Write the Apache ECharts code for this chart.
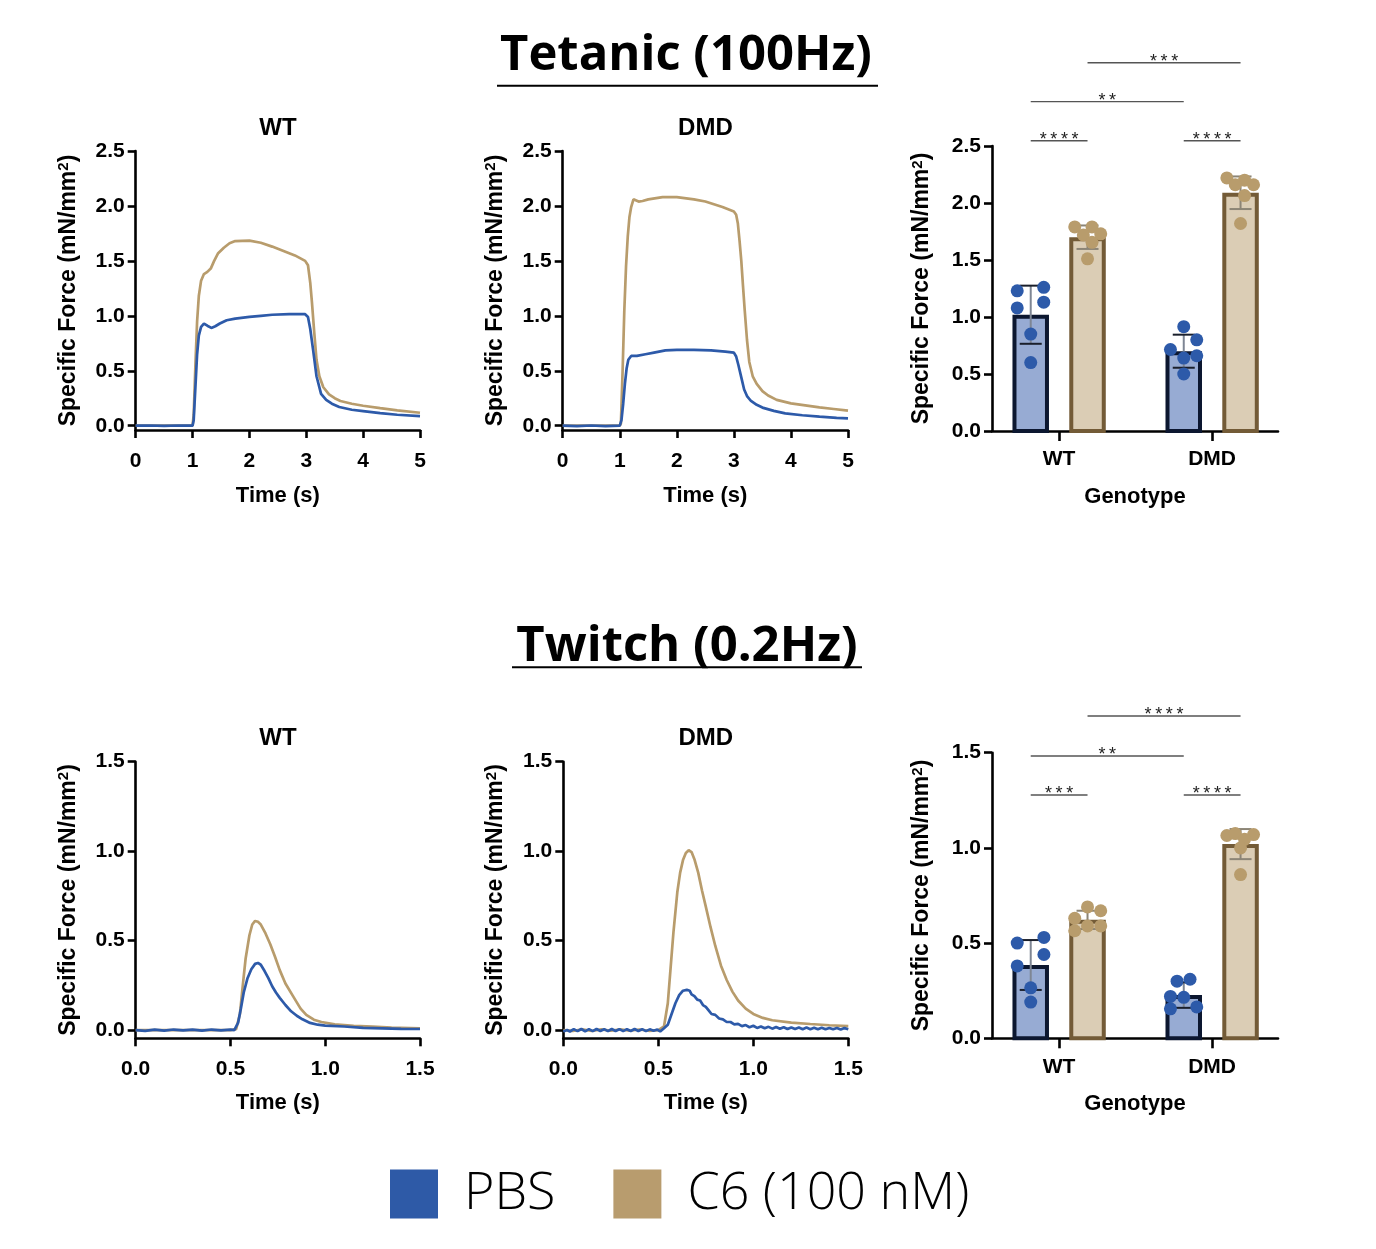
<!DOCTYPE html>
<html>
<head>
<meta charset="utf-8">
<script src="https://cdn.jsdelivr.net/npm/echarts@6/dist/echarts.min.js"></script>
<style>
html,body{margin:0;padding:0;background:#ffffff;}
#chart{width:1376px;height:1249px;}
</style>
</head>
<body>
<div id="chart"></div>
<script>
// ---------------- DATA ----------------
const genotypes = ['WT', 'DMD'];
const treatments = ['PBS', 'C6 (100 nM)'];
const tetForceTicks = [0, 0.5, 1.0, 1.5, 2.0, 2.5];
const twForceTicks = [0, 0.5, 1.0, 1.5];
const genotypeTicks = [0, 1];

// Tetanic traces: [time (s), specific force]
const tetWT_PBS = [[0,0],[0.25,0.002],[0.5,-0.002],[0.75,0.002],[1.0,0],[1.02,0.05],[1.05,0.35],[1.08,0.65],[1.11,0.82],[1.15,0.9],[1.2,0.93],[1.26,0.91],[1.33,0.89],[1.4,0.905],[1.48,0.93],[1.6,0.96],[1.75,0.975],[2.0,0.99],[2.2,1.0],[2.4,1.01],[2.7,1.015],[2.98,1.015],[3.03,0.99],[3.07,0.88],[3.12,0.69],[3.18,0.45],[3.26,0.29],[3.35,0.235],[3.45,0.2],[3.58,0.17],[3.8,0.145],[4.0,0.133],[4.3,0.115],[4.6,0.1],[5.0,0.088]];
const tetWT_C6 = [[0,0],[0.5,0],[1.0,0],[1.02,0.1],[1.05,0.55],[1.08,0.95],[1.11,1.18],[1.15,1.32],[1.2,1.38],[1.26,1.4],[1.32,1.43],[1.38,1.5],[1.45,1.57],[1.55,1.62],[1.65,1.66],[1.75,1.68],[2.0,1.685],[2.2,1.665],[2.4,1.63],[2.6,1.59],[2.8,1.55],[2.98,1.5],[3.03,1.46],[3.07,1.3],[3.1,1.12],[3.14,0.85],[3.18,0.6],[3.23,0.45],[3.3,0.35],[3.4,0.285],[3.5,0.25],[3.6,0.225],[3.8,0.2],[4.0,0.182],[4.3,0.16],[4.6,0.14],[5.0,0.118]];
const tetDMD_PBS = [[0,0],[0.25,-0.004],[0.5,0.002],[0.75,-0.003],[1.0,0],[1.03,0.05],[1.06,0.2],[1.09,0.38],[1.12,0.52],[1.15,0.6],[1.2,0.635],[1.3,0.635],[1.45,0.65],[1.6,0.665],[1.8,0.685],[2.0,0.69],[2.3,0.69],[2.6,0.685],[2.85,0.675],[3.0,0.665],[3.04,0.63],[3.08,0.55],[3.13,0.44],[3.18,0.33],[3.23,0.27],[3.3,0.225],[3.4,0.19],[3.5,0.165],[3.7,0.135],[3.9,0.112],[4.2,0.095],[4.5,0.082],[4.8,0.072],[5.0,0.067]];
const tetDMD_C6 = [[0,0],[0.5,0],[1.0,0],[1.02,0.02],[1.05,0.5],[1.08,1.05],[1.11,1.45],[1.14,1.72],[1.17,1.9],[1.2,1.99],[1.24,2.06],[1.27,2.07],[1.33,2.04],[1.4,2.045],[1.5,2.06],[1.75,2.08],[2.0,2.08],[2.3,2.06],[2.5,2.04],[2.8,1.99],[3.0,1.95],[3.04,1.92],[3.07,1.84],[3.1,1.68],[3.13,1.5],[3.16,1.27],[3.19,1.05],[3.23,0.78],[3.27,0.58],[3.33,0.45],[3.4,0.38],[3.5,0.315],[3.6,0.275],[3.75,0.235],[4.0,0.203],[4.25,0.185],[4.5,0.167],[4.75,0.152],[5.0,0.137]];

// Twitch traces: [time (s), specific force]
const twWT_PBS = [[0,0],[0.05,-0.004],[0.1,0.002],[0.15,-0.003],[0.2,0.003],[0.25,-0.002],[0.3,0.002],[0.35,-0.003],[0.4,0.003],[0.45,-0.002],[0.5,0.002],[0.52,0],[0.54,0.04],[0.555,0.12],[0.57,0.21],[0.59,0.29],[0.61,0.34],[0.63,0.37],[0.645,0.375],[0.66,0.365],[0.68,0.33],[0.7,0.29],[0.72,0.245],[0.74,0.21],[0.76,0.18],[0.79,0.14],[0.82,0.105],[0.85,0.08],[0.88,0.06],[0.92,0.04],[0.96,0.03],[1.0,0.025],[1.1,0.02],[1.2,0.012],[1.3,0.01],[1.4,0.007],[1.5,0.006]];
const twWT_C6 = [[0,0],[0.25,0],[0.5,0],[0.53,0.005],[0.55,0.09],[0.565,0.25],[0.58,0.4],[0.6,0.53],[0.615,0.59],[0.63,0.61],[0.645,0.605],[0.66,0.59],[0.685,0.54],[0.71,0.48],[0.735,0.41],[0.76,0.335],[0.79,0.26],[0.83,0.19],[0.87,0.12],[0.9,0.085],[0.94,0.058],[0.98,0.045],[1.05,0.032],[1.15,0.024],[1.25,0.019],[1.35,0.014],[1.5,0.01]];
const twDMD_PBS = [[0,-0.008],[0.02,0.0],[0.035,-0.008],[0.055,0.005],[0.075,-0.006],[0.095,0.006],[0.115,-0.007],[0.135,0.005],[0.155,-0.006],[0.175,0.006],[0.195,-0.005],[0.215,0.005],[0.235,-0.006],[0.255,0.006],[0.275,-0.005],[0.295,0.005],[0.315,-0.006],[0.335,0.005],[0.355,-0.005],[0.375,0.006],[0.395,-0.005],[0.415,0.005],[0.435,-0.006],[0.455,0.004],[0.475,-0.004],[0.495,0.003],[0.51,-0.008],[0.53,0.01],[0.55,0.03],[0.57,0.09],[0.59,0.15],[0.61,0.195],[0.63,0.22],[0.65,0.225],[0.665,0.22],[0.675,0.2],[0.69,0.19],[0.705,0.17],[0.72,0.165],[0.735,0.14],[0.75,0.13],[0.765,0.11],[0.78,0.09],[0.8,0.085],[0.82,0.065],[0.84,0.06],[0.86,0.045],[0.88,0.045],[0.9,0.032],[0.92,0.035],[0.94,0.022],[0.96,0.028],[0.98,0.016],[1.0,0.024],[1.02,0.012],[1.04,0.02],[1.06,0.01],[1.08,0.018],[1.1,0.008],[1.12,0.017],[1.14,0.007],[1.16,0.016],[1.18,0.006],[1.2,0.015],[1.22,0.006],[1.24,0.014],[1.26,0.005],[1.28,0.014],[1.3,0.005],[1.32,0.013],[1.34,0.004],[1.36,0.013],[1.38,0.004],[1.4,0.012],[1.42,0.004],[1.44,0.012],[1.46,0.003],[1.48,0.011],[1.5,0.005]];
const twDMD_C6 = [[0,0],[0.05,-0.005],[0.1,0.004],[0.15,-0.005],[0.2,0.004],[0.25,-0.004],[0.3,0.004],[0.35,-0.004],[0.4,0.003],[0.45,-0.004],[0.5,0],[0.53,0.02],[0.55,0.15],[0.565,0.35],[0.58,0.55],[0.6,0.77],[0.615,0.88],[0.63,0.95],[0.645,0.99],[0.66,1.005],[0.675,0.995],[0.69,0.955],[0.71,0.88],[0.73,0.78],[0.75,0.69],[0.775,0.575],[0.8,0.47],[0.83,0.36],[0.86,0.28],[0.89,0.215],[0.92,0.165],[0.96,0.12],[1.0,0.09],[1.05,0.068],[1.1,0.055],[1.2,0.042],[1.3,0.034],[1.4,0.027],[1.5,0.022]];

// Bar summaries (mean, SD) per genotype [WT, DMD]
const tetMeanPBS = [1.02, 0.70];
const tetSdPBS = [0.255, 0.145];
const tetMeanC6 = [1.70, 2.09];
const tetSdC6 = [0.103, 0.143];
const twMeanPBS = [0.385, 0.227];
const twSdPBS = [0.131, 0.067];
const twMeanC6 = [0.622, 1.02];
const twSdC6 = [0.048, 0.079];

// Individual points
const tetPtsPBS_WT = [1.23, 1.26, 1.08, 1.13, 0.85, 0.60];
const tetPtsC6_WT = [1.79, 1.79, 1.73, 1.72, 1.655, 1.51];
const tetPtsPBS_DMD = [0.915, 0.80, 0.715, 0.66, 0.64, 0.50];
const tetPtsC6_DMD = [2.22, 2.20, 2.16, 2.16, 2.065, 1.82];
const twPtsPBS_WT = [0.50, 0.53, 0.44, 0.38, 0.265, 0.19];
const twPtsC6_WT = [0.69, 0.67, 0.63, 0.59, 0.59, 0.565];
const twPtsPBS_DMD = [0.30, 0.31, 0.22, 0.215, 0.155, 0.165];
const twPtsC6_DMD = [1.065, 1.075, 1.07, 1.045, 1.00, 0.86];

// Significance: [genotype1, treatment1, genotype2, treatment2, height]
const tetSig = [[0,0,0,1,2.546],[1,0,1,1,2.546],[0,0,1,0,2.889],[0,1,1,1,3.23]];
const tetSigLabels = ['****','****','**','***'];
const twSig = [[0,0,0,1,1.278],[1,0,1,1,1.278],[0,0,1,0,1.483],[0,1,1,1,1.693]];
const twSigLabels = ['***','****','**','****'];

// ---------------- LAYOUT / STYLE ----------------
const FONT = "'Liberation Sans', Arial, Helvetica, sans-serif";
const BLUE = '#2D5AA9';
const TAN = '#B89C6C';
const treatOffset = [-28.3, 28.5];   // px from genotype tick to bar centre
// horizontal jitter of individual dots (px), same order as point arrays
const jitTetPBS_WT = [-13.5, 13, -13.5, 13, 0, 0];
const jitTetC6_WT = [-12.8, 4.5, 13.2, -4.2, 4.5, 0];
const jitTetPBS_DMD = [0, 13, -13.3, 13, 0, 0];
const jitTetC6_DMD = [-13.7, 4, -5.3, 13, 4, 0];
const jitTwPBS_WT = [-13.5, 13.2, 13.2, -13.5, 0, 0];
const jitTwC6_WT = [0, 13.2, -12.8, 0, 13.2, -12.8];
const jitTwPBS_DMD = [-6.7, 6.3, -13.3, 0, -13.3, 13];
const jitTwC6_DMD = [-13.7, -5.3, 13, 4, 0, 0];

const grids = [
  {left: 135.7, top: 151, width: 284.3, height: 279},
  {left: 562.7, top: 151, width: 285.3, height: 279},
  {left: 992, top: 146, width: 286, height: 285},
  {left: 135.7, top: 761.7, width: 284.3, height: 276.6},
  {left: 563.3, top: 761.7, width: 285, height: 276.6},
  {left: 992, top: 752.7, width: 286, height: 285.6}
].map(g => Object.assign({outerBoundsMode: 'none', containLabel: false}, g));

const axisLineStyle = {show: true, onZero: false, lineStyle: {color: '#000', width: 2.6}};
const tickStyle = (len) => ({show: true, length: len, lineStyle: {color: '#000', width: 2.6}});
const labelBase = {color: '#000', fontSize: 21, fontWeight: 'bold', fontFamily: FONT};
const yName = 'Specific Force (mN/mm{sup|2})';
const yNameStyle = {color: '#000', fontSize: 23, fontWeight: 'bold', fontFamily: FONT,
  rich: {sup: {fontSize: 15, fontWeight: 'bold', fontFamily: FONT, color: '#000', verticalAlign: 'top', lineHeight: 23}}};
const xNameStyle = {color: '#000', fontSize: 22, fontWeight: 'bold', fontFamily: FONT};

function lineXAxis(gi, max, interval, digits, margin, gap) {
  return {type: 'value', gridIndex: gi, min: 0, max: max, interval: interval,
    axisLine: axisLineStyle, axisTick: tickStyle(8), splitLine: {show: false},
    axisLabel: Object.assign({margin: margin, formatter: v => v.toFixed(digits)}, labelBase),
    name: 'Time (s)', nameLocation: 'middle', nameGap: gap, nameTextStyle: xNameStyle, nameMoveOverlap: false};
}
function lineYAxis(gi, min, max, ticks) {
  return {type: 'value', gridIndex: gi, min: min, max: max,
    axisLine: axisLineStyle, axisTick: Object.assign({customValues: ticks}, tickStyle(8)), splitLine: {show: false},
    axisLabel: Object.assign({margin: 11, customValues: ticks, formatter: v => v.toFixed(1)}, labelBase),
    name: yName, nameLocation: 'middle', nameRotate: 90, nameGap: 56, nameTextStyle: yNameStyle, nameMoveOverlap: false};
}
function barXAxis(gi, margin) {
  return {type: 'value', gridIndex: gi, min: -0.438, max: 1.431,
    axisLine: axisLineStyle, axisTick: Object.assign({customValues: genotypeTicks}, tickStyle(10)), splitLine: {show: false},
    axisLabel: Object.assign({margin: margin, customValues: genotypeTicks, formatter: v => genotypes[Math.round(v)]}, labelBase),
    name: 'Genotype', nameLocation: 'middle', nameGap: 55, nameTextStyle: xNameStyle, nameMoveOverlap: false};
}
function barYAxis(gi, max) {
  return {type: 'value', gridIndex: gi, min: 0, max: max, interval: 0.5,
    axisLine: axisLineStyle, axisTick: tickStyle(8), splitLine: {show: false},
    axisLabel: Object.assign({margin: 11, formatter: v => v.toFixed(1)}, labelBase),
    name: yName, nameLocation: 'middle', nameRotate: 90, nameGap: 59, nameTextStyle: yNameStyle, nameMoveOverlap: false};
}

function lineSeries(name, gi, data, color) {
  return {type: 'line', name: name, xAxisIndex: gi, yAxisIndex: gi, data: data,
    showSymbol: false, symbol: 'none', smooth: false,
    lineStyle: {color: color, width: 2.7}, itemStyle: {color: color}, emphasis: {disabled: true}, silent: true};
}

const barStyles = [
  {fill: '#97ABD3', stroke: '#0C1730', stem: '#7E8694', cap: '#1A1F2B'},
  {fill: '#DBCDB5', stroke: '#735B37', stem: '#8C8576', cap: '#8C8576'}
];
function barSeries(name, gi, ti, means, sds) {
  const st = barStyles[ti];
  return {type: 'custom', name: name, xAxisIndex: gi, yAxisIndex: gi, clip: false, silent: true,
    data: genotypes.map((g, i) => [i, means[i], sds[i]]),
    itemStyle: {color: st.fill},
    renderItem: function (params, api) {
      const g = api.value(0), m = api.value(1), sd = api.value(2);
      const base = api.coord([g, 0]);
      const top = api.coord([g, m]);
      const cx = base[0] + treatOffset[ti];
      const bw = 36.5, lw = 4;
      const eTop = api.coord([g, m + sd])[1];
      const eBot = api.coord([g, m - sd])[1];
      return {type: 'group', children: [
        {type: 'rect', shape: {x: cx - bw / 2 + lw / 2, y: top[1] + lw / 2, width: bw - lw, height: base[1] - top[1] - lw / 2},
          style: {fill: st.fill, stroke: st.stroke, lineWidth: lw}},
        {type: 'line', shape: {x1: cx, y1: eTop, x2: cx, y2: eBot}, style: {stroke: st.stem, lineWidth: 2}},
        {type: 'line', shape: {x1: cx - 11, y1: eTop, x2: cx + 11, y2: eTop}, style: {stroke: st.cap, lineWidth: 2}},
        {type: 'line', shape: {x1: cx - 11, y1: eBot, x2: cx + 11, y2: eBot}, style: {stroke: st.cap, lineWidth: 2}}
      ]};
    }};
}
function dotSeries(name, gi, ti, genoIdx, values, jitter, color) {
  return {type: 'scatter', name: name, xAxisIndex: gi, yAxisIndex: gi, symbol: 'circle', symbolSize: 13,
    itemStyle: {color: color, opacity: 1}, silent: true, clip: false, z: 5,
    data: values.map((v, k) => ({value: [genoIdx, v], symbolOffset: [treatOffset[ti] + jitter[k], 0]}))};
}
function sigSeries(gi, sig, labels) {
  return {type: 'custom', name: 'sig', xAxisIndex: gi, yAxisIndex: gi, clip: false, silent: true, z: 6,
    data: sig,
    renderItem: function (params, api) {
      const yv = api.value(4);
      const y = api.coord([0, yv])[1];
      const x1 = api.coord([api.value(0), yv])[0] + treatOffset[api.value(1)];
      const x2 = api.coord([api.value(2), yv])[0] + treatOffset[api.value(3)];
      return {type: 'group', children: [
        {type: 'line', shape: {x1: x1, y1: y, x2: x2, y2: y}, style: {stroke: '#555', lineWidth: 1.4}},
        {type: 'text', x: (x1 + x2) / 2, y: y - 1, style: {text: labels[params.dataIndex].split('').join('\u2009'), fill: '#222', fontSize: 18, fontFamily: FONT, align: 'center', verticalAlign: 'middle'}}
      ]};
    }};
}

const series = [
  lineSeries(treatments[1], 0, tetWT_C6, TAN), lineSeries(treatments[0], 0, tetWT_PBS, BLUE),
  lineSeries(treatments[1], 1, tetDMD_C6, TAN), lineSeries(treatments[0], 1, tetDMD_PBS, BLUE),
  lineSeries(treatments[1], 3, twWT_C6, TAN), lineSeries(treatments[0], 3, twWT_PBS, BLUE),
  lineSeries(treatments[1], 4, twDMD_C6, TAN), lineSeries(treatments[0], 4, twDMD_PBS, BLUE),
  barSeries(treatments[0], 2, 0, tetMeanPBS, tetSdPBS), barSeries(treatments[1], 2, 1, tetMeanC6, tetSdC6),
  barSeries(treatments[0], 5, 0, twMeanPBS, twSdPBS), barSeries(treatments[1], 5, 1, twMeanC6, twSdC6),
  dotSeries(treatments[0], 2, 0, 0, tetPtsPBS_WT, jitTetPBS_WT, BLUE),
  dotSeries(treatments[1], 2, 1, 0, tetPtsC6_WT, jitTetC6_WT, TAN),
  dotSeries(treatments[0], 2, 0, 1, tetPtsPBS_DMD, jitTetPBS_DMD, BLUE),
  dotSeries(treatments[1], 2, 1, 1, tetPtsC6_DMD, jitTetC6_DMD, TAN),
  dotSeries(treatments[0], 5, 0, 0, twPtsPBS_WT, jitTwPBS_WT, BLUE),
  dotSeries(treatments[1], 5, 1, 0, twPtsC6_WT, jitTwC6_WT, TAN),
  dotSeries(treatments[0], 5, 0, 1, twPtsPBS_DMD, jitTwPBS_DMD, BLUE),
  dotSeries(treatments[1], 5, 1, 1, twPtsC6_DMD, jitTwC6_DMD, TAN),
  sigSeries(2, tetSig, tetSigLabels),
  sigSeries(5, twSig, twSigLabels)
];

const TITLE_FONT = "'Open Sans', 'Noto Sans', sans-serif";
function subTitle(text, x, y) {
  return {type: 'text', x: x, y: y, silent: true,
    style: {text: text, fill: '#000', fontSize: 24, fontWeight: 'bold', fontFamily: FONT, align: 'center', verticalAlign: 'middle'}};
}
const graphic = [
  {type: 'text', x: 686, y: 56, silent: true,
    style: {text: 'Tetanic (100Hz)', fill: '#000', fontSize: 49, fontWeight: 'bold', fontFamily: TITLE_FONT, align: 'center', verticalAlign: 'middle'}},
  {type: 'rect', shape: {x: 497, y: 84.7, width: 381, height: 2}, style: {fill: '#000'}, silent: true},
  {type: 'text', x: 687, y: 647, silent: true,
    style: {text: 'Twitch (0.2Hz)', fill: '#000', fontSize: 49, fontWeight: 'bold', fontFamily: TITLE_FONT, align: 'center', verticalAlign: 'middle'}},
  {type: 'rect', shape: {x: 512, y: 666.3, width: 350, height: 2}, style: {fill: '#000'}, silent: true},
  subTitle(genotypes[0], 277.9, 128), subTitle(genotypes[1], 705.4, 128),
  subTitle(genotypes[0], 277.9, 738), subTitle(genotypes[1], 705.8, 738)
];

const option = {
  backgroundColor: '#ffffff',
  animation: false,
  grid: grids,
  xAxis: [lineXAxis(0, 5, 1, 0, 21, 55), lineXAxis(1, 5, 1, 0, 21, 55), barXAxis(2, 18),
          lineXAxis(3, 1.5, 0.5, 1, 20, 54), lineXAxis(4, 1.5, 0.5, 1, 20, 54), barXAxis(5, 18)],
  yAxis: [lineYAxis(0, -0.039, 2.5, tetForceTicks), lineYAxis(1, -0.039, 2.5, tetForceTicks), barYAxis(2, 2.5),
          lineYAxis(3, -0.046, 1.5, twForceTicks), lineYAxis(4, -0.046, 1.5, twForceTicks), barYAxis(5, 1.5)],
  legend: {
    show: true, left: 385, top: 1163, orient: 'horizontal', selectedMode: false,
    icon: 'rect', itemWidth: 48, itemHeight: 49, itemGap: 58,
    data: [{name: treatments[0], itemStyle: {color: '#2E5AA7'}}, {name: treatments[1], itemStyle: {color: '#B89C6E'}}],
    textStyle: {color: '#000', fontSize: 52, fontWeight: 300, fontFamily: TITLE_FONT, padding: [0, 0, 0, 21]}
  },
  graphic: graphic,
  series: series
};

const chart = echarts.init(document.getElementById('chart'), null, {renderer: 'canvas', width: 1376, height: 1249});
chart.setOption(option);
</script>
</body>
</html>
